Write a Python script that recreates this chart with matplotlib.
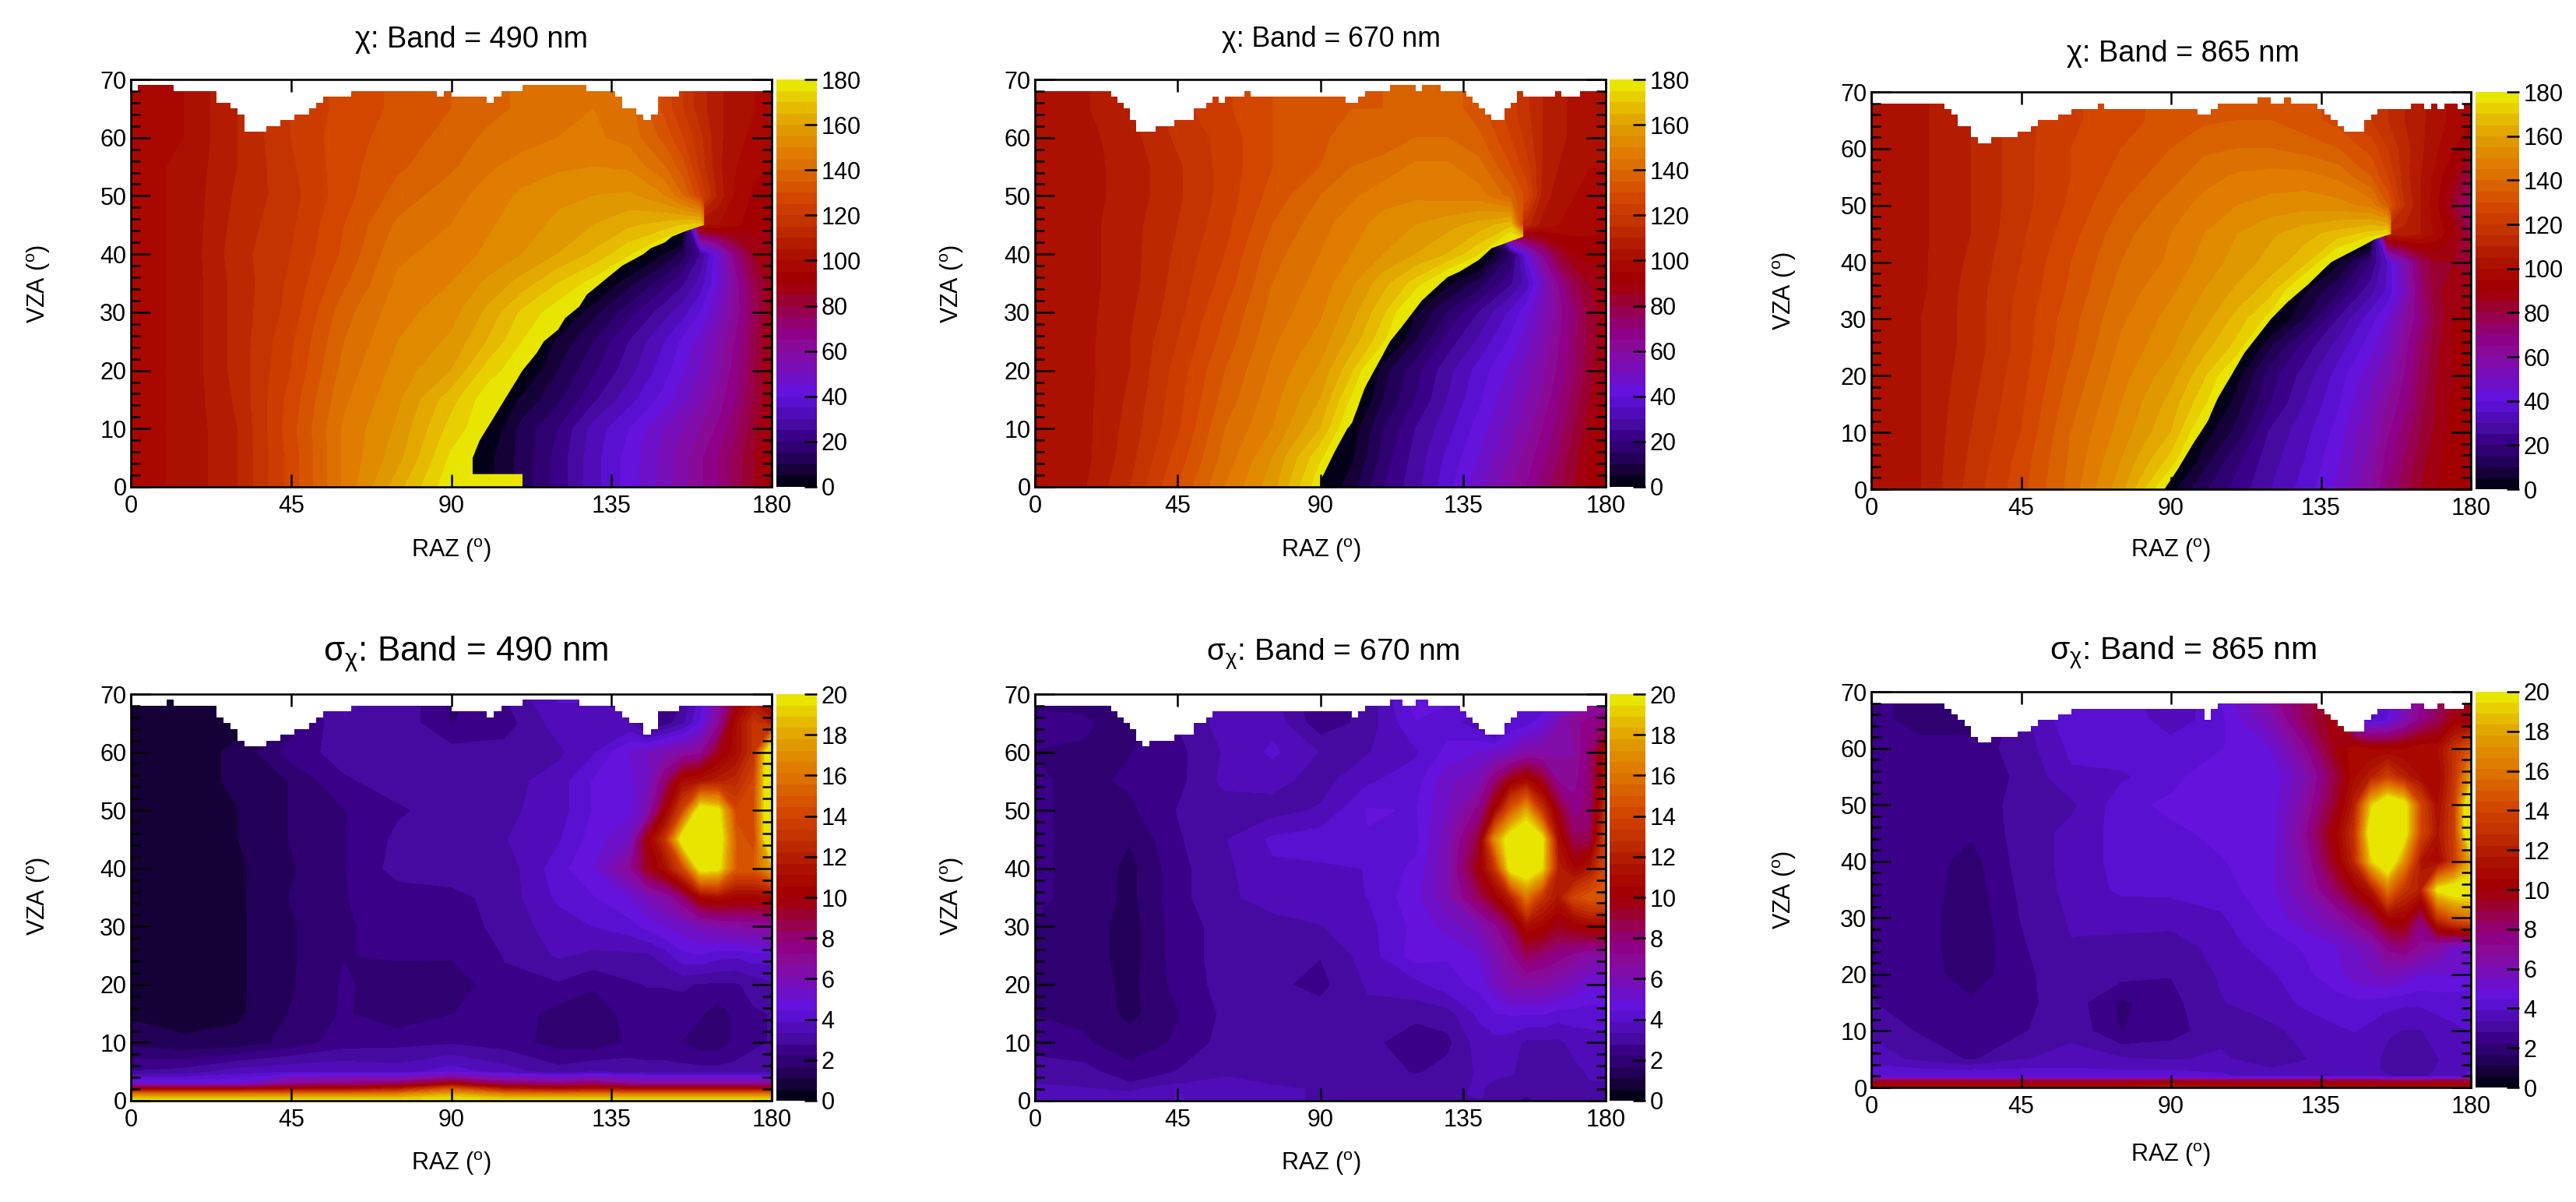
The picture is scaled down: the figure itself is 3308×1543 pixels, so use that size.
import numpy as np
import matplotlib
matplotlib.use("Agg")
import matplotlib.pyplot as plt
from matplotlib.colors import ListedColormap, BoundaryNorm
from matplotlib.patches import Polygon
from matplotlib.ticker import MultipleLocator, FixedLocator
from matplotlib.cm import ScalarMappable

plt.rcParams['font.family'] = ['Liberation Sans', 'DejaVu Sans']
plt.rcParams['mathtext.fontset'] = 'custom'
plt.rcParams['mathtext.rm'] = 'Liberation Sans'
plt.rcParams['mathtext.it'] = 'Liberation Sans'
plt.rcParams['mathtext.bf'] = 'Liberation Sans'

W, H = 3308, 1543

# ---------- colour bands (bottom to top) ----------
BAND_COLOURS = ['#05001a', '#150038', '#230058', '#2e0070', '#3a0088', '#460aa0',
                '#500cb8', '#5a10d0', '#6412dc', '#6e10c8', '#780eb8', '#820ca8',
                '#8a0a98', '#8e0088', '#920070', '#980050', '#9a0030', '#a00010',
                '#a20000', '#a80800', '#ac1000', '#b41c00', '#bc2800', '#c43400',
                '#cc3c00', '#d24600', '#d65400', '#d86200', '#dc7000', '#e07c00',
                '#e08a00', '#e09800', '#e2a800', '#e6ba00', '#e8d000', '#e8e600']

# ---------- chi grids: values at these nodes ----------
CHI_RAZ = [0, 15, 30, 45, 60, 75, 90, 100, 110, 120, 130, 140, 150, 155, 160, 165, 170, 175, 180]
CHI_VZA = [0, 5, 10, 15, 20, 25, 30, 35, 40, 45, 50, 55, 60, 65, 70]

CHI_490 = [
    [98,101,110,127,146,163,179,3,12,22,33,42,52,58,64,70,77,85,93],
    [98,101,110,127,146,158,176,3,12,22,33,42,52,58,64,70,77,85,93],
    [98,101,110,128,146,156,172,179,12,20,32,40,50,55,60,66,74,83,92],
    [98,101,111,127,144,154,168,178,6,14,24,33,42,48,54,62,70,80,90],
    [98,101,112,125,142,152,160,172,179,10,19,28,38,44,50,58,68,79,90],
    [98,101,112,124,140,150,156,165,175,6,15,25,35,41,47,56,66,78,90],
    [98,101,112,122,138,148,153,161,171,178,8,18,28,33,40,50,62,76,88],
    [98,101,112,121,134,146,150,156,162,170,177,8,18,24,32,45,62,78,88],
    [98,101,113,120,131,144,147,151,155,160,166,174,5,12,25,45,70,85,90],
    [98,101,112,119,130,141,145,149,153,156,160,164,167,170,172,100,96,92,90],
    [98,101,111,118,128,137,143,147,151,154,155,156,150,140,125,108,98,94,94],
    [98,101,110,119,128,134,139,144,147,149,150,149,140,132,118,106,100,96,95],
    [97,100,110,120,128,132,137,141,143,145,146,143,133,125,116,106,102,98,97],
    [97,100,110,120,127,131,135,138,141,144,145,142,128,120,112,106,102,100,99],
    [97,100,110,120,127,131,135,138,141,144,145,142,128,120,112,106,102,100,99],
]
CHI_670 = [
    [100,104,115,130,145,158,179,8,20,28,38,48,60,65,72,78,85,90,95],
    [100,103,113,127,142,155,174,4,17,27,36,45,56,62,68,75,83,90,94],
    [100,103,112,124,140,150,165,2,15,25,33,42,52,58,65,72,80,88,93],
    [100,103,111,123,137,148,160,176,10,20,30,39,49,55,61,69,77,85,92],
    [100,103,110,122,135,146,156,169,8,18,28,37,46,52,58,66,74,83,90],
    [100,103,110,120,132,144,152,162,174,10,22,31,41,47,55,64,73,82,89],
    [100,103,109,118,130,142,149,158,169,4,15,25,36,43,52,62,72,82,88],
    [100,103,108,117,127,140,147,154,163,172,3,12,24,32,48,65,78,85,90],
    [100,103,108,116,125,138,145,150,155,160,165,174,15,42,65,82,90,92,92],
    [100,103,108,115,123,135,143,148,152,155,158,162,168,112,103,100,98,97,96],
    [100,103,107,114,122,132,140,144,148,149,148,147,138,128,108,102,100,99,99],
    [100,103,107,114,122,130,135,140,142,146,146,142,130,122,110,105,102,100,100],
    [100,103,108,116,122,130,134,137,137,140,140,136,125,118,110,106,104,102,101],
    [101,104,110,118,124,130,134,135,135,137,138,132,122,116,110,106,104,102,101],
    [101,104,110,118,124,130,134,135,135,137,138,132,122,116,110,106,104,102,101],
]
CHI_865 = [
    [100,105,117,128,142,158,3,14,22,30,37,46,60,70,78,85,90,93,95],
    [100,105,116,127,141,155,172,8,19,28,35,44,57,67,75,83,89,93,95],
    [100,105,115,125,140,152,165,2,12,26,33,42,55,64,72,80,87,92,95],
    [100,105,114,124,138,150,162,174,8,20,30,39,52,60,68,78,86,92,95],
    [100,105,113,123,136,148,158,169,3,18,27,37,48,55,65,76,85,90,94],
    [100,105,112,122,134,146,154,163,172,10,22,32,43,50,62,74,84,90,94],
    [100,105,112,122,133,144,152,158,167,177,10,25,38,45,58,70,82,90,93],
    [100,104,112,121,131,142,149,155,161,168,4,14,28,36,50,72,84,88,88],
    [100,104,111,120,130,140,146,152,157,162,168,3,20,35,55,75,85,85,82],
    [100,104,110,119,128,138,145,150,155,159,163,167,172,175,108,105,98,90,78],
    [100,104,110,118,126,135,142,147,150,152,153,152,148,135,115,105,95,82,72],
    [100,104,110,118,125,132,138,143,146,147,147,144,135,125,112,105,97,88,78],
    [100,104,110,118,125,130,135,139,140,140,138,135,128,120,112,106,100,95,88],
    [100,104,110,118,124,128,132,134,135,135,132,128,120,115,110,106,102,98,95],
    [100,104,110,118,124,128,132,134,135,135,132,128,120,115,110,106,102,98,95],
]

# 180/0 wrap line of each chi panel, read as (VZA, RAZ) points ending at the convergence point
WRAP_VZA_490 = [0, 5, 8, 10, 12, 14, 16, 18, 20, 23, 25, 27, 29, 31, 33, 35, 37, 38, 40, 41, 42, 43, 44, 45]
WRAP_RAZ_490 = [96, 96, 98, 100, 102, 104, 106, 108, 110, 114, 116, 120, 122, 126, 128, 132, 136, 138, 144, 146, 150, 152, 156, 161]
WRAP_VZA_670 = [0, 1, 6, 10, 11, 17, 21, 25, 28, 32, 34, 36, 37, 39, 41, 43]
WRAP_RAZ_670 = [90, 90, 94.5, 98.5, 100, 104, 108, 112, 116.4, 122, 126, 130, 134, 140, 144, 154]
WRAP_VZA_865 = [0, 3.5, 8, 12, 16, 20, 24, 27, 30, 33, 36, 40, 42, 44, 45]
WRAP_RAZ_865 = [88, 92, 96.6, 101, 104, 108, 112, 116, 120, 125, 131, 138, 144.6, 151, 156]
# thin yellow strip along the bottom of the 490 nm chi panel: (RAZ end, VZA height)
STRIP_490 = (110, 2.2)

# ---------- sigma grids ----------
SIG_RAZ = [0, 15, 30, 45, 60, 75, 90, 105, 120, 130, 140, 145, 150, 155, 160, 165, 170, 175, 180]
SIG_VZA = [0, 1, 2, 3, 5, 10, 15, 20, 25, 30, 35, 40, 45, 50, 55, 60, 65, 70]

SIG_490 = [
    [20,20,20,20,20,20,20,20,20,20,20,20,20,20,20,20,20,20,20],
    [17,17,17,17,17,17,18.5,17,17,17,17,17,17,17,17,17,17,17,17],
    [10.5,10.5,10.5,11,11,12,15,12,11,11.5,11,11,11,11,11,11,11,11,11],
    [5,5,5,7,7.5,8,10,8,7.5,8,7,7,7,7,7,7,7,7,7],
    [2.8,3,3.6,3.8,3.8,3.6,4.2,3.6,3,3.3,3.2,3,3,3,3,3,3,3,3],
    [1.5,1.2,1.3,1.9,2.5,2.6,2.7,2.5,2,1.9,2.3,2.4,2.4,2.2,1.9,1.9,2.4,2.7,2.8],
    [1,.9,1,1.7,2.3,1.8,2.2,2.6,2,1.9,2.4,2.6,2.6,2.4,2.3,1.9,2.4,2.7,2.8],
    [.9,.9,1,1.6,2.3,1.9,1.8,2.7,2.7,2.3,2.7,2.8,2.8,2.9,2.7,2.7,2.7,3,3.2],
    [.9,.9,1,1.6,2.2,2.3,2.3,2.8,3.4,3.2,3.2,3.2,3.6,4.3,4.4,4.1,4,4.2,4.2],
    [.9,.9,1,1.6,2.2,2.3,2.4,3,3.6,3.9,4.2,4.6,5,5.3,5.8,6.2,6.5,6.7,6.9],
    [.9,.9,1,1.7,2.2,2.5,2.6,3,4,4.4,5,5.8,6.5,8,10.5,11,10.5,10.5,10.5],
    [.9,.9,1,1.6,2.2,3,3.1,3,4.2,5,7,9.5,11,14,20.5,20,15,15,18],
    [.9,.9,1.1,1.7,2.2,2.9,3.3,3.3,3.8,4.7,5.5,10,13,21,22,21,15,14,23],
    [.9,.9,1.1,1.7,2.2,2.7,3,3.2,3.6,4.5,4.8,6,10,14,21,20,14,14.5,23],
    [.9,.9,1.2,1.7,2.7,3,3,3.1,3.6,4.5,4.8,5.5,8,11,11.5,12,12.5,14,23],
    [.9,.9,1.2,2.5,3,3.1,3,3,3.2,3.8,5,5.5,6,6.5,7,9.5,11,13,23],
    [.9,.9,1,1.9,3.3,3.2,2.2,2.5,3.6,3.6,3.4,2,2.5,3.2,4.5,7,11,13,12],
    [1,1,1,2,3.4,3.3,2,2.8,4,4,3.6,3,2.5,2.6,4,6,9,11,10],
]
SIG_670 = [
    [3.7,3.6,3.7,3.9,3.8,3.4,3.3,3.2,3.2,3.1,3.3,3.3,3,2.6,3.1,3.3,3,3,3],
    [3.6,3.5,3.5,3.9,3.8,3.4,3.3,3.2,3.2,3.2,3.4,3.2,3,2.8,3,3.3,3.1,3.1,3.1],
    [3.5,3.4,3.2,3.8,3.8,3.4,3.3,3.2,3.2,3.2,3.4,3.2,3,3,3,3.3,3.2,3.2,3.2],
    [3.3,3.2,2.8,3.3,3.5,3.3,3.2,3.2,3,3.1,3.4,3.3,3.2,3,3,3.1,3.2,3.3,3.3],
    [3.1,3,2.4,2.8,3.2,3.2,3.2,3.2,2.7,3,3.4,3.4,3.4,3.1,2.9,3,3.2,3.4,3.5],
    [2.5,2.3,1.9,2.3,3,3,3.1,3,2.3,2.6,3.6,3.7,3.6,3.2,3.2,3.2,3.5,3.6,3.7],
    [2.2,2.1,1.5,2.2,2.9,3,3,3.2,3,3.1,4,4.4,4.5,4.5,4.5,4.2,4.2,4.2,4.3],
    [2.2,2,1.5,2.4,3,2.9,2.6,3.4,3.7,4.2,4.6,5.5,6.3,6.3,6.3,6,5.5,5,4.8],
    [2.2,2,1.4,2.5,3,3,2.8,3.6,4.7,4.5,5,6,7,8.5,8,7.5,7,6.5,6.5],
    [2.2,2,1.4,2.5,3,3.1,3.3,3.7,4.6,5.2,6,7,8.5,11,10.5,9.5,10,10.5,10.5],
    [2.3,2.1,1.5,2.6,3.2,3.6,3.7,3.9,4.8,6,8.5,10,12,16,13,11.5,14,15,15],
    [2.3,2.1,1.5,2.6,3.2,3.8,3.8,3.9,4.6,6,10,13,20.5,21.5,19.5,12,10.5,11.5,14],
    [2.3,2.1,1.7,2.7,3.3,4,4.2,4.4,4.2,6,9,17,21,22,20,11,8.5,8.5,14],
    [2.3,2.1,2.1,2.8,3,3.1,3.4,4.5,4.4,5.5,7.5,10.5,15,18,13,9.5,7.5,8,13],
    [2.3,2.1,2.3,2.6,3.5,3.5,3.1,3.8,4.2,5.4,6,8,10,11,9.5,7.2,7,8,11.5],
    [2.2,2.1,2.2,2.6,3.4,4,3.3,3.3,3.8,4.6,5,5.3,5.5,6.4,6.4,6.5,6.6,8,11],
    [2.4,2.4,1.8,2.8,3.6,3.7,2.4,3,4.4,4.2,3.5,2.2,4,4.2,4.8,6,7,7.5,8],
    [2,1.8,1.8,2.8,3.4,3.4,2.2,3,4.8,4.6,4.2,3,3,3.8,3.6,4,5,6,6],
]
SIG_865 = [
    [11,11,11,11,11,11,12,11,11,11,11,11,11,11,11,11,11,11,11],
    [9.5,9.5,9.5,9.5,9.5,9.5,10,9.5,9.5,9.5,9.5,9.5,9.5,9.5,9.5,9.5,9.5,9.5,9.5],
    [4.5,4.4,4.3,4.3,4.3,4.2,4.2,4,3.6,3.6,3.8,3.8,3.6,3.4,3.2,3.2,3.6,3.8,4],
    [4.2,4,3.9,4,4,3.9,3.9,3.8,3.4,3.5,3.7,3.8,3.5,3.2,3,3,3.4,3.7,3.9],
    [3.6,3.2,2.7,3.3,3.5,3.4,3.3,3.4,3.1,3.3,3.6,3.7,3.5,3.2,2.9,2.9,3.3,3.6,3.8],
    [3.2,2.7,2.4,2.7,3.2,2.2,2.5,3.2,3.2,3.5,3.8,3.9,3.7,3.4,3.3,3.3,3.6,3.8,3.9],
    [2.8,2.5,2.3,2.6,3.1,2.1,2.6,3.3,3.6,4,4.2,4.3,4.3,4.1,4,4,4.1,4.1,4.1],
    [2.7,2.5,1.9,2.6,3.2,3,2.8,3.4,3.8,4.3,4.8,5.3,5.5,5.8,5.5,5,5,5,4.8],
    [2.7,2.5,1.8,2.7,3.3,3.2,3,3.6,4.2,4.5,5,5.5,6,7.5,8,7,6.5,5.5,5.3],
    [2.7,2.5,1.8,2.8,3.4,3.5,3.6,3.8,4.6,5.4,6.5,7.5,8.5,10.5,10.5,8,13,15,16],
    [2.7,2.5,1.9,2.9,3.5,4,4,4.2,4.8,6.2,8.5,10,11.5,16,13,12,20,21,21],
    [2.7,2.5,2,3,3.5,4.1,4.1,4.4,4.8,6.5,10,12.5,19,22,17,11.5,10.5,13.5,18],
    [2.7,2.5,2.3,3,3.5,4.1,4.3,4.6,4.6,7,10.5,13,21,22,20.5,14,11.5,13.5,23],
    [2.6,2.5,2.4,3,3.2,4.2,4.6,5,4.6,6.5,9.5,12,19,22,20.5,14,11,13.5,23],
    [2.6,2.5,2.7,2.8,3.8,3.8,4.2,5,4.5,6,9,11,12,13.5,12,11,10.5,13,18],
    [2.5,2.4,2.5,3,4,4.2,4.2,4.4,5,7,10,11,10.5,10.5,10.5,11,11,13,15],
    [2.4,2,1.9,3.1,4.3,4.4,3.5,4.3,6,8.5,10,5,3.8,4.5,6,7.5,8.5,10,10],
    [2.4,2,2,3.2,4.2,4.2,3.2,4.5,7,8.5,10,5,3,3.8,5.5,7,8,9,9],
]

# ---------- upper limit of the data per 2-degree RAZ column ----------
TOP_CHI_490 = ([68]+[69]*5+[68]*6+[66]*2+[65,64]+[61]*3+[62]*2+[63]*2+[64]*2+[65,66]+[67]*4+[68]*12
               +[67,68]+[67]*5+[66,67]+[68]*3+[69]*9+[68]*4+[67]+[65]*2+[64,63,64]+[67]*3+[68]*13)
TOP_CHI_670 = ([68]*12+[67,66,65,63,61,61,61]+[62]*3+[63]*3+[65]*2+[66,67,66]+[67]*3+[68]+[67]*15
               +[66]*2+[67]+[68]*4+[69]*4+[68,69,69,69]+[68]*4+[67,66,65,64]+[63]*2+[65,66,68]
               +[67]*5+[68]+[67]*3+[68]*4)
TOP_CHI_865 = ([68]*11+[67,66,64,64,62,61,61]+[62]*4+[63]*2+[64]+[65]*3+[66]*2+[67]*4+[68]+[67]*14
               +[66]*2+[67]+[68]*6+[69]*2+[68,68,69]+[68]*4+[67,66,65,64]+[63]*3+[65,66]+[67]*5
               +[68]*2+[67,68,67]+[68]*2+[67,68])
TOP_SIG_490 = ([68]*5+[69]+[68]*6+[66,65,64,62]+[61]*3+[62]*2+[63]*2+[64]*2+[65,66]+[67]*4+[68]*13
               +[68]+[67]*5+[66,67]+[68]*3+[69]*8+[68]*5+[67,66,65,65,63,64]+[67]*3+[68]*13)
TOP_SIG_670 = ([68]*12+[67,66,65,64,62,61]+[62]*4+[63]*3+[65]*2+[66]+[67]*22+[66,67]+[68]*4+[69]*2
               +[68]*2+[69]*2+[68]*5+[67,66,65,64]+[63]*3+[65,66]+[67]*11+[68]*3)
TOP_SIG_865 = ([68]*11+[67,66,65,64,62,61,61]+[62]*4+[63]*2+[64]+[65]*3+[66]*2+[67]*20+[65,67]
               +[68]*15+[67,66,65,64]+[63]*3+[65,66]+[67]*5+[68]*2+[67]*2+[68]+[67]*3+[68])

# ---------- axis contents ----------
RAZ_TICKS = [0, 45, 90, 135, 180]
VZA_TICKS = [0, 10, 20, 30, 40, 50, 60, 70]
CHI_CB_TICKS = [0, 20, 40, 60, 80, 100, 120, 140, 160, 180]
SIG_CB_TICKS = [0, 2, 4, 6, 8, 10, 12, 14, 16, 18, 20]

BANDS = ['490', '670', '865']
CHI_TITLE = 'χ: Band = '
SIG_TITLE = r'$\mathrm{σ_{χ}}$: Band = '
RAZ_LABEL = r'RAZ ($^{\mathrm{o}}$)'
VZA_LABEL = r'VZA ($^{\mathrm{o}}$)'

# ---------- page layout, in reference pixels ----------
PANELS = {
    'chi490': dict(ax=(168, 102, 991, 625), cb=(997, 1049), title=(606, 51), tfs=27.3, xl=(580, 707), yl=(50, 364)),
    'chi670': dict(ax=(1329, 102, 2062, 625), cb=(2067, 2113), title=(1710, 51), tfs=25.7, xl=(1697, 707), yl=(1223, 364)),
    'chi865': dict(ax=(2403, 118, 3173, 628), cb=(3179, 3235), title=(2803, 69), tfs=27.3, xl=(2788, 707), yl=(2292, 373)),
    'sig490': dict(ax=(168, 891, 991, 1413), cb=(997, 1049), title=(598, 840), tfs=31.5, xl=(580, 1494), yl=(50, 1150)),
    'sig670': dict(ax=(1329, 891, 2062, 1413), cb=(2067, 2113), title=(1712, 840), tfs=28, xl=(1697, 1494), yl=(1223, 1150)),
    'sig865': dict(ax=(2403, 888, 3173, 1396), cb=(3179, 3235), title=(2804, 838), tfs=29.5, xl=(2788, 1483), yl=(2292, 1142)),
}

TICK_FS = 22
LABEL_FS = 22
RAZ_COLUMN_EDGES = np.arange(0, 182, 2)

fig = plt.figure(figsize=(W / 100, H / 100), dpi=100, facecolor='white')


def make_axes(x0, y0, x1, y1):
    return fig.add_axes([x0 / W, 1 - y1 / H, (x1 - x0) / W, (y1 - y0) / H])


def style_axes(ax):
    ax.set_xlim(0, 180)
    ax.set_ylim(0, 70)
    ax.set_axisbelow(False)
    ax.xaxis.set_major_locator(FixedLocator(RAZ_TICKS))
    ax.yaxis.set_major_locator(FixedLocator(VZA_TICKS))
    ax.yaxis.set_minor_locator(MultipleLocator(2))
    ax.tick_params(axis='x', which='major', direction='in', top=True, bottom=True,
                   length=11.5, width=1.8, labelsize=TICK_FS, pad=7)
    ax.tick_params(axis='y', which='major', direction='in', left=True, right=True,
                   length=18, width=1.8, labelsize=TICK_FS, pad=4)
    ax.tick_params(axis='y', which='minor', direction='in', left=True, right=True,
                   length=8.6, width=1.8)
    for s in ax.spines.values():
        s.set_linewidth(1.9)


def colourbar(x0, x1, y0, y1, norm, cmap, ticks):
    cax = make_axes(x0, y0, x1, y1)
    cb = fig.colorbar(ScalarMappable(norm=norm, cmap=cmap), cax=cax, spacing='proportional', extend='neither')
    cb.outline.set_visible(False)
    cb.set_ticks(ticks)
    cb.minorticks_off()
    cb.ax.tick_params(axis='y', which='major', direction='in', right=True, length=11.5, width=1.8,
                      labelsize=TICK_FS, pad=4)
    for s in cb.ax.spines.values():
        s.set_visible(False)
    return cb


def finish(ax, top, name, title):
    p = PANELS[name]
    tops = list(top) + [top[-1]]
    ax.fill_between(RAZ_COLUMN_EDGES, tops, 71, step='post', color='white', linewidth=0, zorder=1.8)
    style_axes(ax)
    fig.text(p['title'][0] / W, 1 - p['title'][1] / H, title, ha='center', va='center', fontsize=p['tfs'])
    fig.text(p['xl'][0] / W, 1 - p['xl'][1] / H, RAZ_LABEL, ha='center', va='center', fontsize=LABEL_FS)
    fig.text(p['yl'][0] / W, 1 - p['yl'][1] / H, VZA_LABEL, ha='center', va='center', fontsize=LABEL_FS,
             rotation=90)


def cmap_for():
    cm = ListedColormap(BAND_COLOURS)
    cm.set_over(BAND_COLOURS[-1])
    cm.set_under(BAND_COLOURS[0])
    return cm


def draw_chi(name, grid, wrap_vza, wrap_raz, top, band, strip=None):
    p = PANELS[name]
    x0, y0, x1, y1 = p['ax']
    ax = make_axes(x0, y0, x1, y1)
    levels = np.linspace(0, 180, 37)
    cm = cmap_for()
    norm = BoundaryNorm(levels, 36)
    Z = np.array(grid, dtype=float)
    raz_nodes = np.array(CHI_RAZ)
    vza_nodes = np.array(CHI_VZA)
    X, Y = np.meshgrid(raz_nodes, vza_nodes)
    vza_end, raz_end = wrap_vza[-1], wrap_raz[-1]
    right = (X > np.interp(Y, wrap_vza, wrap_raz)) & (Y < vza_end)

    # the picture wraps 180 -> 0 along a line: each side is drawn continuous across that line
    row_above = np.searchsorted(vza_nodes, vza_end)
    last_col = np.searchsorted(raz_nodes, raz_end, side='right') - 1
    Z_lower = Z.copy()
    left = (~right) & (Y < vza_end)
    left[row_above, :last_col] = True
    Z_lower[left] -= 180
    Z_lower[row_above, last_col] = Z[row_above, last_col + 1]
    Z_upper = np.where(right, Z + 180, Z)

    ax.contourf(X, Y, Z_lower, levels=levels, cmap=cm, norm=norm, extend='both', zorder=1)
    upper = ax.contourf(X, Y, Z_upper, levels=levels, cmap=cm, norm=norm, extend='both', zorder=1.2)
    verts = [(0, 0)]
    if strip:
        verts += [(strip[0], 0), (strip[0], strip[1]), (wrap_raz[0], strip[1])]
    else:
        verts += [(wrap_raz[0], 0)]
    verts += list(zip(wrap_raz[1:], wrap_vza[1:]))
    verts += [(raz_end, 71), (0, 71)]
    clip = Polygon(verts, closed=True, transform=ax.transData, facecolor='none', edgecolor='none')
    ax.add_patch(clip)
    upper.set_clip_path(clip)
    finish(ax, top, name, CHI_TITLE + band + ' nm')
    colourbar(p['cb'][0], p['cb'][1], y0, y1, norm, cm, CHI_CB_TICKS)


def draw_sigma(name, grid, top, band):
    p = PANELS[name]
    x0, y0, x1, y1 = p['ax']
    ax = make_axes(x0, y0, x1, y1)
    levels = np.linspace(0, 20, 37)
    cm = cmap_for()
    norm = BoundaryNorm(levels, 36)
    ax.contourf(SIG_RAZ, SIG_VZA, np.array(grid, dtype=float), levels=levels, cmap=cm, norm=norm,
                extend='both', zorder=1)
    finish(ax, top, name, SIG_TITLE + band + ' nm')
    colourbar(p['cb'][0], p['cb'][1], y0, y1, norm, cm, SIG_CB_TICKS)


draw_chi('chi490', CHI_490, WRAP_VZA_490, WRAP_RAZ_490, TOP_CHI_490, BANDS[0], STRIP_490)
draw_chi('chi670', CHI_670, WRAP_VZA_670, WRAP_RAZ_670, TOP_CHI_670, BANDS[1])
draw_chi('chi865', CHI_865, WRAP_VZA_865, WRAP_RAZ_865, TOP_CHI_865, BANDS[2])
draw_sigma('sig490', SIG_490, TOP_SIG_490, BANDS[0])
draw_sigma('sig670', SIG_670, TOP_SIG_670, BANDS[1])
draw_sigma('sig865', SIG_865, TOP_SIG_865, BANDS[2])

fig.savefig('out.png', dpi=100, facecolor='white')
